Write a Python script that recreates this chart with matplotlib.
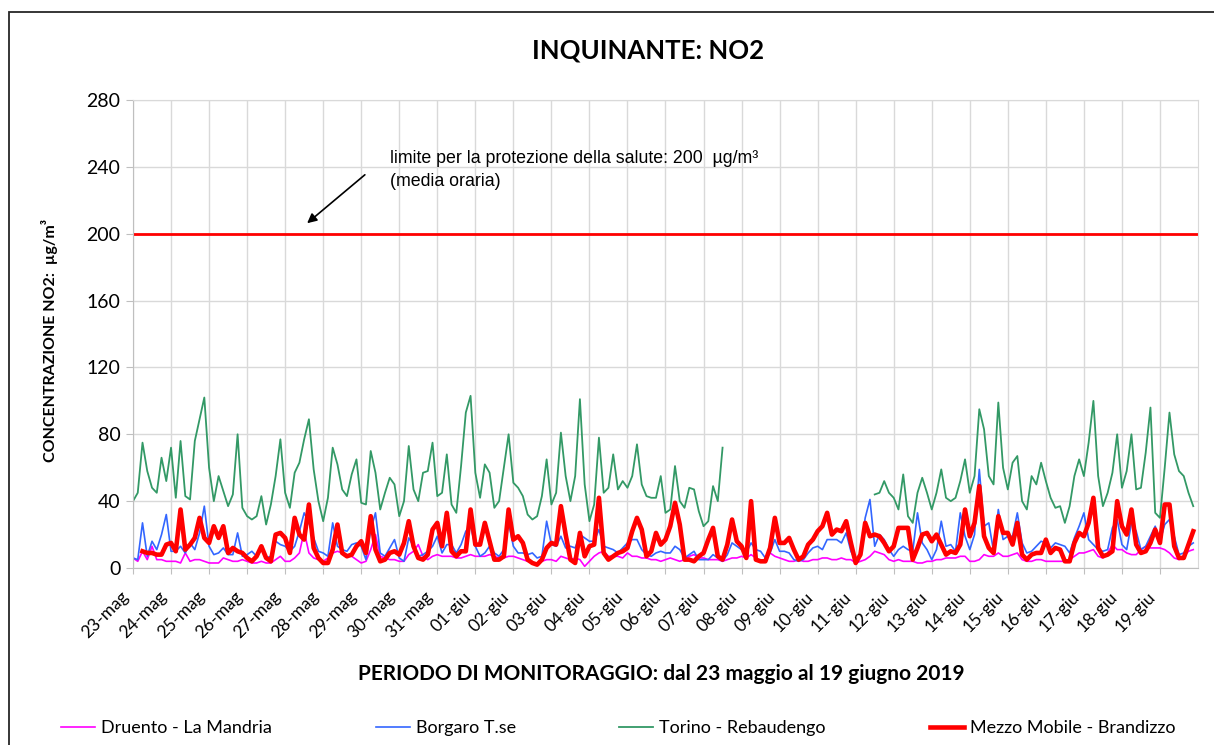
import numpy as np
import matplotlib.pyplot as plt
from matplotlib.patches import Rectangle
from matplotlib.lines import Line2D
import matplotlib.transforms as mtransforms

nan = float('nan')

# day labels (one tick per day)
days = ['23-mag', '24-mag', '25-mag', '26-mag', '27-mag', '28-mag', '29-mag',
        '30-mag', '31-mag', '01-giu', '02-giu', '03-giu', '04-giu', '05-giu',
        '06-giu', '07-giu', '08-giu', '09-giu', '10-giu', '11-giu', '12-giu',
        '13-giu', '14-giu', '15-giu', '16-giu', '17-giu', '18-giu', '19-giu']

# NO2 values every 3 hours (8 per day), ug/m3
druento = [
    6, 4, 10, 5, 13, 5, 5, 4,
    4, 4, 3, 9, 4, 5, 5, 4,
    3, 3, 3, 6, 5, 4, 4, 5,
    4, 3, 3, 4, 3, 3, 5, 7,
    4, 4, 6, 9, 22, 9, 6, 5,
    4, 6, 9, 10, 9, 8, 7, 5,
    3, 4, 11, 20, 7, 6, 5, 5,
    4, 4, 8, 10, 14, 7, 5, 7,
    8, 7, 7, 7, 6, 6, 7, 8,
    7, 7, 7, 8, 7, 6, 6, 7,
    7, 6, 5, 4, 3, 3, 4, 5,
    5, 4, 7, 6, 5, 6, 5, 1,
    4, 7, 9, 10, 7, 7, 7, 6,
    9, 7, 7, 6, 6, 5, 5, 4,
    5, 6, 5, 4, 5, 7, 8, 6,
    6, 5, 5, 5, 4, 5, 6, 6,
    7, 6, 8, 6, 4, 5, 9, 7,
    6, 5, 4, 4, 5, 4, 4, 5,
    5, 6, 6, 5, 5, 6, 5, 5,
    3, 4, 5, 7, 10, 9, 8, 5,
    4, 5, 4, 4, 4, 3, 3, 4,
    4, 5, 5, 6, 6, 6, 7, 7,
    4, 4, 5, 8, 7, 7, 9, 7,
    7, 8, 9, 5, 4, 4, 5, 5,
    4, 4, 4, 4, 4, 5, 7, 9,
    9, 10, 11, 7, 6, 9, 14, 11,
    11, 9, 8, 8, 11, 13, 12, 12,
    12, 11, 9, 6, 5, 7, 10, 11]

borgaro = [
    6, 5, 27, 7, 16, 11, 20, 32,
    10, 10, 13, 9, 15, 11, 21, 37,
    13, 8, 9, 12, 8, 8, 21, 7,
    8, 10, 7, 11, 6, 7, 16, 14,
    13, 10, 13, 22, 33, 27, 18, 10,
    9, 7, 27, 13, 11, 10, 14, 15,
    13, 5, 23, 33, 9, 7, 12, 17,
    6, 4, 18, 13, 7, 8, 10, 13,
    19, 9, 14, 14, 9, 14, 22, 25,
    13, 7, 9, 13, 9, 7, 11, 27,
    13, 9, 9, 8, 9, 6, 7, 28,
    14, 13, 19, 12, 13, 12, 20, 18,
    16, 16, 23, 13, 12, 11, 9, 12,
    15, 17, 17, 11, 8, 7, 9, 10,
    9, 9, 13, 11, 6, 8, 10, 5,
    5, 5, 8, 6, 4, 8, 15, 13,
    11, 9, 15, 11, 10, 6, 9, 17,
    10, 10, 9, 5, 4, 5, 9, 12,
    13, 11, 17, 17, 17, 15, 21, 10,
    4, 9, 30, 41, 13, 20, 17, 11,
    7, 11, 13, 11, 10, 33, 15, 11,
    5, 11, 28, 13, 14, 10, 33, 19,
    11, 20, 59, 25, 27, 10, 35, 17,
    19, 19, 33, 15, 9, 10, 13, 16,
    15, 12, 15, 14, 13, 9, 18, 25,
    33, 17, 14, 11, 10, 11, 24, 29,
    14, 11, 27, 22, 11, 13, 19, 25,
    16, 26, 29, 19, 8, 9, 13, 15]

rebaudengo = [
    40, 45, 75, 58, 48, 45, 66, 52,
    72, 42, 76, 43, 41, 76, 89, 102,
    60, 40, 55, 46, 37, 44, 80, 36,
    31, 29, 31, 43, 26, 38, 55, 77,
    45, 36, 57, 63, 77, 89, 59, 40,
    28, 42, 72, 62, 47, 43, 56, 65,
    39, 38, 70, 57, 35, 45, 54, 50,
    31, 40, 73, 47, 40, 57, 58, 75,
    43, 45, 68, 38, 33, 61, 93, 103,
    57, 42, 62, 57, 36, 40, 60, 80,
    51, 48, 43, 32, 29, 31, 43, 65,
    38, 45, 81, 55, 40, 55, 101, 50,
    28, 38, 78, 45, 48, 68, 47, 52,
    48, 55, 74, 50, 43, 42, 42, 55,
    33, 35, 61, 40, 36, 48, 47, 34,
    25, 28, 49, 40, 72, nan, nan, nan,
    nan, nan, nan, nan, nan, nan, nan, nan,
    nan, nan, nan, nan, nan, nan, nan, nan,
    nan, nan, nan, nan, nan, nan, nan, nan,
    nan, nan, nan, nan, 44, 45, 52, 45,
    42, 35, 56, 31, 27, 45, 54, 45,
    35, 45, 59, 42, 40, 42, 52, 65,
    45, 55, 95, 83, 55, 50, 99, 60,
    47, 63, 67, 40, 35, 55, 50, 63,
    52, 42, 36, 37, 27, 37, 55, 65,
    55, 75, 100, 55, 37, 45, 57, 80,
    48, 58, 80, 47, 48, 69, 96, 33,
    30, 60, 93, 68, 58, 55, 45, 37]

brandizzo = [
    nan, nan, 10, 9, 9, 8, 8, 14,
    15, 10, 35, 11, 14, 18, 30, 18,
    15, 25, 18, 25, 9, 12, 10, 9,
    6, 4, 7, 13, 6, 4, 20, 21,
    18, 9, 30, 20, 17, 38, 12, 6,
    3, 3, 11, 26, 9, 7, 8, 13,
    16, 9, 31, 11, 4, 5, 9, 10,
    8, 15, 28, 13, 6, 5, 8, 23,
    27, 13, 33, 10, 7, 10, 10, 35,
    14, 14, 27, 16, 5, 5, 7, 35,
    17, 19, 15, 5, 3, 2, 5, 12,
    15, 14, 37, 20, 5, 3, 21, 7,
    13, 14, 42, 9, 5, 7, 9, 10,
    12, 22, 30, 23, 7, 10, 21, 14,
    17, 25, 39, 26, 5, 5, 4, 7,
    9, 17, 24, 7, 5, 14, 29, 16,
    13, 6, 40, 5, 4, 4, 12, 30,
    15, 15, 18, 11, 5, 7, 14, 17,
    22, 25, 33, 20, 23, 22, 28, 15,
    3, 8, 27, 19, 20, 19, 15, 10,
    13, 24, 24, 24, 5, 12, 20, 21,
    16, 20, 14, 8, 10, 9, 14, 35,
    19, 27, 49, 19, 12, 9, 31, 21,
    21, 14, 27, 8, 5, 8, 9, 9,
    17, 9, 12, 11, 4, 4, 15, 21,
    19, 27, 42, 12, 7, 8, 10, 40,
    25, 20, 35, 14, 9, 10, 15, 23,
    15, 38, 38, 13, 6, 6, 14, 22]

limite = 200
yticks = [0, 40, 80, 120, 160, 200, 240, 280]

plt.rcParams['font.family'] = 'Lato'
grid_col = '#d9d9d9'
axis_col = '#bfbfbf'
W, H = 1214, 745

hours = np.arange(len(druento)) * 3   # 3 hour step

fig = plt.figure(figsize=(12.14, 7.45), dpi=100)
ax = fig.add_axes([133/W, 1-568/H, 1065/W, 468/H])

ax.plot(hours, druento, color='#ff00ff', lw=1.2, label='Druento - La Mandria')
ax.plot(hours, borgaro, color='#3366ff', lw=1.2, label='Borgaro T.se')
ax.plot(hours, rebaudengo, color='#339966', lw=1.3, label='Torino - Rebaudengo')
ax.plot(hours, brandizzo, color='#ff0000', lw=3.3, label='Mezzo Mobile - Brandizzo')
ax.axhline(limite, color='#ff0000', lw=2.0)

ax.set_xlim(0, 24*len(days))
ax.set_ylim(0, 280)
ax.set_yticks(yticks)
ax.set_xticks(np.arange(len(days))*24)
ax.set_xticklabels(days, rotation=45, ha='right', va='center', rotation_mode='anchor')
ax.grid(True, color=grid_col, lw=1.0)
ax.set_axisbelow(True)
ax.tick_params(axis='y', labelsize=14, length=5, color=axis_col, pad=4)
ax.tick_params(axis='x', labelsize=12.5, length=4, color=axis_col, pad=15)
for s in ['left', 'bottom']:
  ax.spines[s].set_color(axis_col)
for s in ['top', 'right']:
  ax.spines[s].set_color(grid_col)

# shift rotated date labels a bit to the left
offset = mtransforms.ScaledTranslation(-7/100., 0, fig.dpi_scale_trans)
for lab in ax.get_xticklabels():
  lab.set_transform(lab.get_transform() + offset)

# limit annotation (figure pixels are counted from the bottom)
ax.annotate('', xy=(305, H-225), xycoords='figure pixels',
            xytext=(367, H-173), textcoords='figure pixels',
            arrowprops=dict(arrowstyle='-|>', color='black', lw=1.2, mutation_scale=14))
fig.text(390/W, 1-170/H, 'limite per la protezione della salute: 200  µg/m³\n(media oraria)',
         family='Liberation Sans', fontsize=12.8, va='center', ha='left', linespacing=1.4)

fig.text(648/W, 1-50/H, 'INQUINANTE: NO2', ha='center', va='center',
         fontsize=18.5, weight='bold')
fig.text(661/W, 1-674/H, 'PERIODO DI MONITORAGGIO: dal 23 maggio al 19 giugno 2019',
         ha='center', va='center', fontsize=15, weight='bold')
fig.text(50/W, 1-340/H, 'CONCENTRAZIONE NO2:  µg/m³', rotation=90,
         ha='center', va='center', fontsize=11.5, weight='bold')

# legend, one entry at a time like the original layout
lines = ax.get_lines()[:4]
xpos = [61, 376, 619, 930]
for ln, xp in zip(lines, xpos):
  h = Line2D([], [], color=ln.get_color(), lw=ln.get_linewidth())
  fig.legend(handles=[h], labels=[ln.get_label()], loc='center left',
             bbox_to_anchor=(xp/W, 1-728/H), frameon=False, fontsize=13,
             handlelength=1.9, handletextpad=0.3, borderpad=0, borderaxespad=0)

# outer chart frame
fig.add_artist(Rectangle((9/W, -0.1), 1.2, 1-12/H+0.1, transform=fig.transFigure,
                         fill=False, edgecolor='#262626', lw=1.3, clip_on=False))

fig.savefig('out.png', dpi=100)
